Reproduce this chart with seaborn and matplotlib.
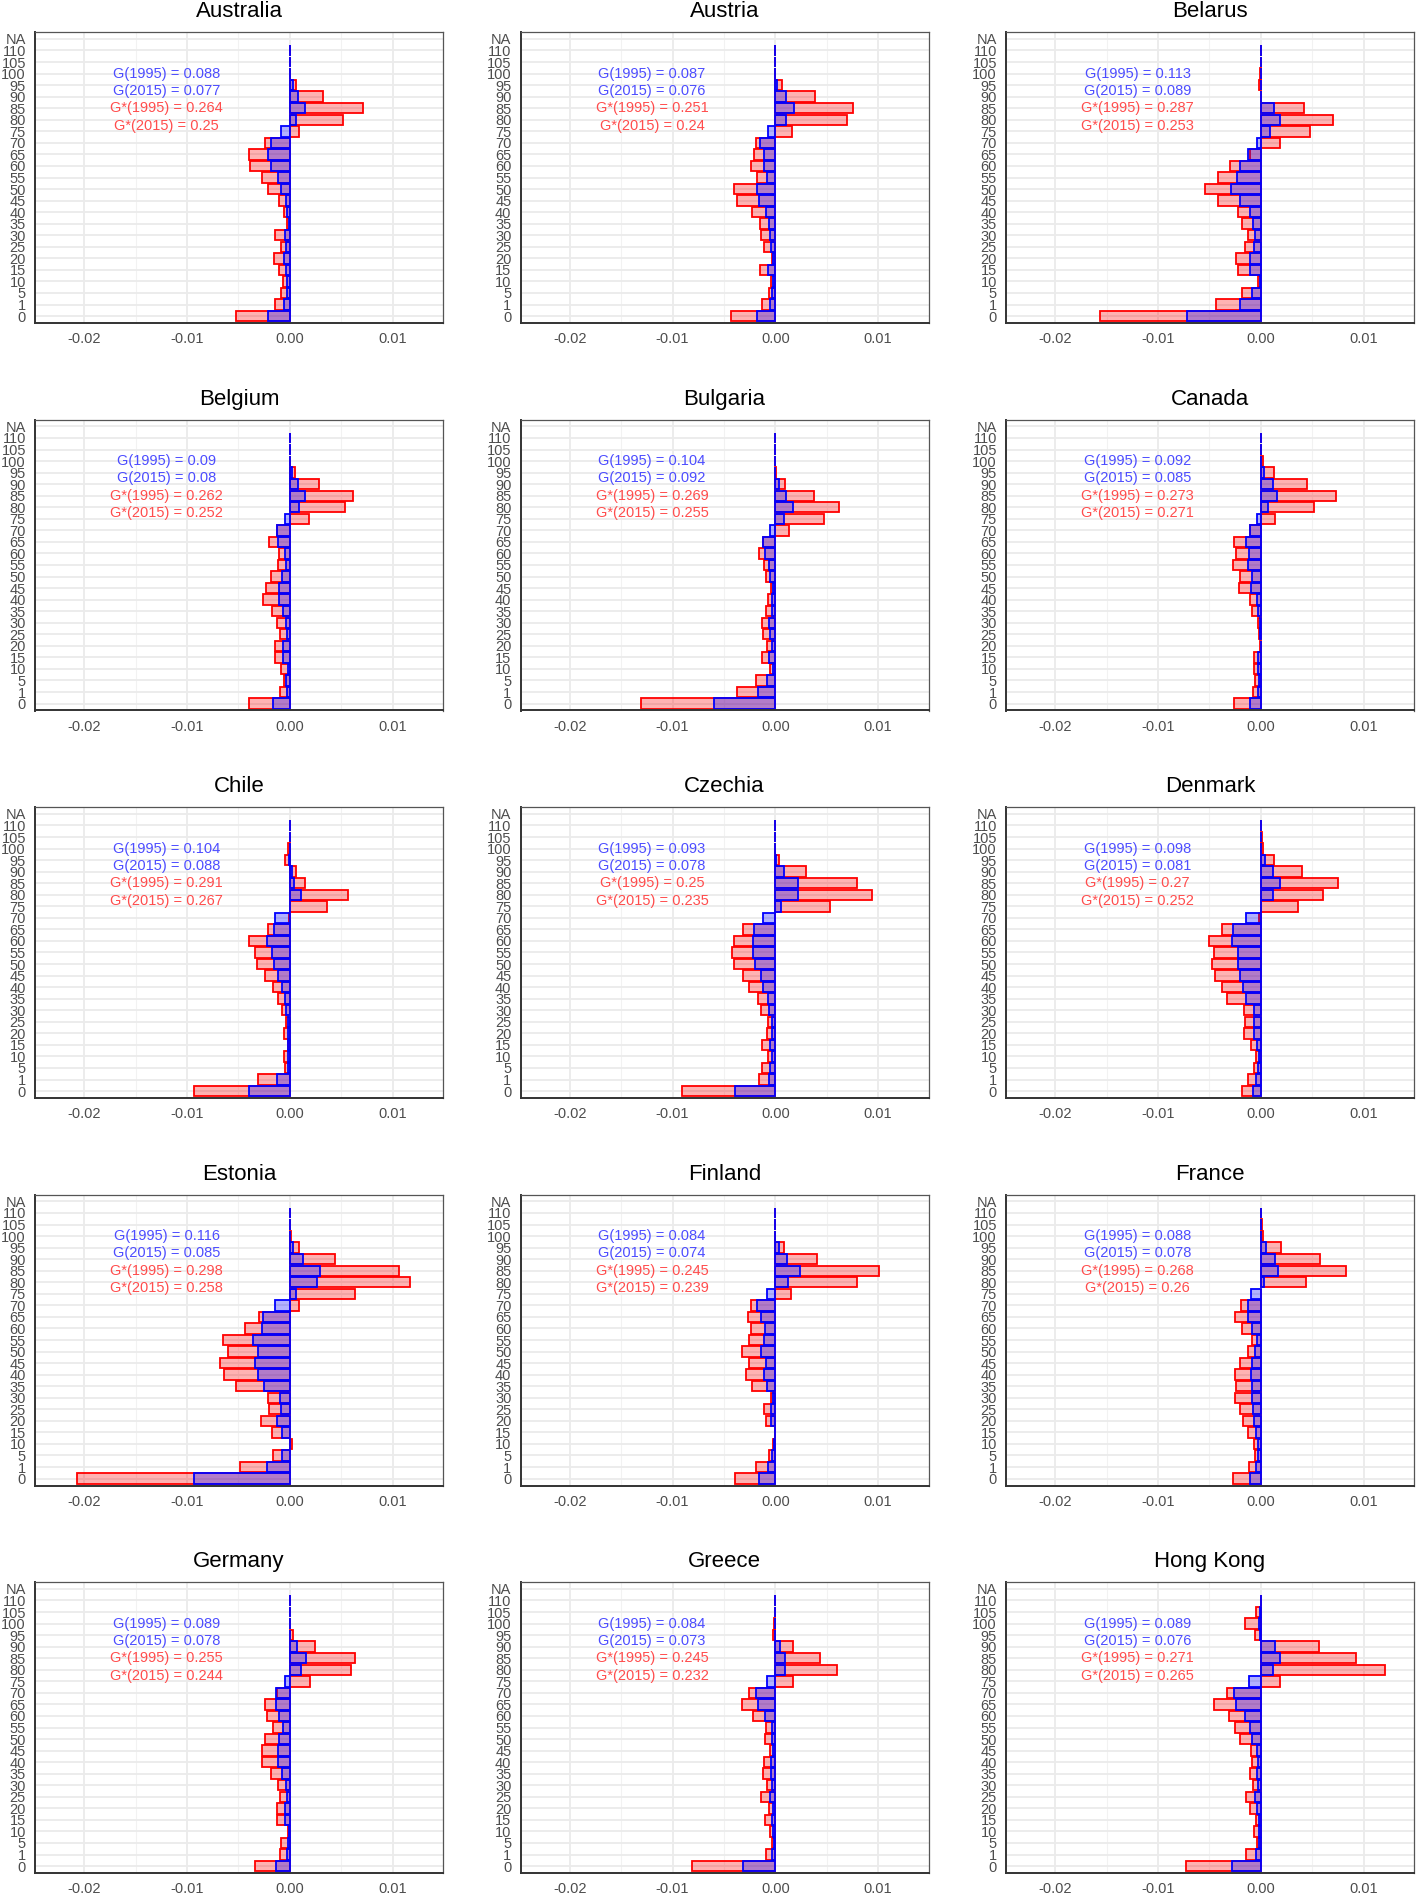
import matplotlib
matplotlib.use("Agg")
import matplotlib.pyplot as plt
import pandas as pd
import seaborn as sns

# ---------------- data ----------------
AGES = ['0', '1', '5', '10', '15', '20', '25', '30', '35', '40', '45', '50', '55',
        '60', '65', '70', '75', '80', '85', '90', '95', '100', '105', '110']
AXIS_CATEGORIES = AGES + ['NA']
XTICKS = [-0.02, -0.01, 0.0, 0.01]
XTICK_LABELS = ['-0.02', '-0.01', '0.00', '0.01']

COUNTRIES = ['Australia', 'Austria', 'Belarus', 'Belgium', 'Bulgaria', 'Canada',
             'Chile', 'Czechia', 'Denmark', 'Estonia', 'Finland', 'France',
             'Germany', 'Greece', 'Hong Kong']

G_1995 = [0.088, 0.087, 0.113, 0.09, 0.104, 0.092, 0.104, 0.093, 0.098, 0.116, 0.084, 0.088, 0.089, 0.084, 0.089]
G_2015 = [0.077, 0.076, 0.089, 0.08, 0.092, 0.085, 0.088, 0.078, 0.081, 0.085, 0.074, 0.078, 0.078, 0.073, 0.076]
GSTAR_1995 = [0.264, 0.251, 0.287, 0.262, 0.269, 0.273, 0.291, 0.25, 0.27, 0.298, 0.245, 0.268, 0.255, 0.245, 0.271]
GSTAR_2015 = [0.25, 0.24, 0.253, 0.252, 0.255, 0.271, 0.267, 0.235, 0.252, 0.258, 0.239, 0.26, 0.244, 0.232, 0.265]

# values by age group (0, 1, 5, ..., 110); red = G*, blue = G
AUSTRALIA_GSTAR = [-0.00520, -0.00140, -0.00090, -0.00070, -0.00110, -0.00150, -0.00090, -0.00140, -0.00030, -0.00060, -0.00110, -0.00210,
                   -0.00270, -0.00390, -0.00400, -0.00240, 0.00090, 0.00520, 0.00710, 0.00320, 0.00060, 0.0, 0.0, 0.0]
AUSTRALIA_G = [-0.00210, -0.00060, -0.00030, -0.00030, -0.00040, -0.00060, -0.00040, -0.00050, -0.00010, -0.00030, -0.00040, -0.00090,
               -0.00120, -0.00180, -0.00210, -0.00180, -0.00090, 0.00060, 0.00150, 0.00080, 0.00030, 0.0, 0.0, 0.0]

AUSTRIA_GSTAR = [-0.00435, -0.00134, -0.00061, -0.00042, -0.00150, -0.00035, -0.00112, -0.00137, -0.00147, -0.00227, -0.00371, -0.00399,
                 -0.00182, -0.00233, -0.00204, -0.00188, 0.00157, 0.00693, 0.00751, 0.00390, 0.00064, 0.0, 0.0, 0.0]
AUSTRIA_G = [-0.00179, -0.00051, -0.00032, -0.00026, -0.00067, -0.00022, -0.00042, -0.00051, -0.00061, -0.00096, -0.00160, -0.00176,
             -0.00077, -0.00112, -0.00112, -0.00147, -0.00073, 0.00105, 0.00182, 0.00105, 0.00019, 0.0, 0.0, 0.0]

BELARUS_GSTAR = [-0.01570, -0.00436, -0.00182, -0.00029, -0.00225, -0.00241, -0.00150, -0.00127, -0.00179, -0.00225, -0.00414, -0.00544,
                 -0.00414, -0.00300, -0.00104, 0.00186, 0.00479, 0.00700, 0.00420, 0.0, -0.00023, -0.00005, 0.0, 0.0]
BELARUS_G = [-0.00723, -0.00202, -0.00085, -0.00013, -0.00104, -0.00107, -0.00065, -0.00059, -0.00081, -0.00107, -0.00202, -0.00287,
             -0.00231, -0.00202, -0.00121, -0.00042, 0.00088, 0.00186, 0.00130, 0.0, 0.0, 0.0, 0.0, 0.0]

BELGIUM_GSTAR = [-0.00400, -0.00094, -0.00061, -0.00085, -0.00146, -0.00146, -0.00094, -0.00127, -0.00174, -0.00263, -0.00235, -0.00183,
                 -0.00113, -0.00103, -0.00202, -0.00122, 0.00183, 0.00535, 0.00610, 0.00282, 0.00047, 0.0, 0.0, 0.0]
BELGIUM_G = [-0.00160, -0.00028, -0.00033, -0.00023, -0.00066, -0.00066, -0.00028, -0.00042, -0.00070, -0.00108, -0.00103, -0.00080,
             -0.00038, -0.00047, -0.00117, -0.00122, -0.00052, 0.00089, 0.00150, 0.00075, 0.00019, 0.0, 0.0, 0.0]

BULGARIA_GSTAR = [-0.01306, -0.00370, -0.00185, -0.00056, -0.00134, -0.00083, -0.00125, -0.00134, -0.00088, -0.00074, -0.00042, -0.00093,
                  -0.00106, -0.00157, -0.00120, 0.00130, 0.00477, 0.00616, 0.00375, 0.00097, 0.00010, 0.0, 0.0, 0.0]
BULGARIA_G = [-0.00593, -0.00167, -0.00083, -0.00023, -0.00065, -0.00032, -0.00056, -0.00060, -0.00032, -0.00037, -0.00019, -0.00051,
              -0.00060, -0.00097, -0.00120, -0.00056, 0.00083, 0.00167, 0.00106, 0.00032, 0.0, 0.0, 0.0, 0.0]

CANADA_GSTAR = [-0.00261, -0.00074, -0.00055, -0.00071, -0.00071, -0.00005, -0.00023, -0.00029, -0.00087, -0.00110, -0.00216, -0.00206,
                -0.00268, -0.00239, -0.00258, -0.00106, 0.00140, 0.00520, 0.00730, 0.00450, 0.00126, 0.00020, 0.0, 0.0]
CANADA_G = [-0.00106, -0.00032, -0.00023, -0.00032, -0.00032, 0.0, -0.00006, -0.00010, -0.00032, -0.00039, -0.00094, -0.00084,
            -0.00123, -0.00119, -0.00148, -0.00106, -0.00039, 0.00065, 0.00160, 0.00120, 0.00035, 0.0, 0.0, 0.0]

CHILE_GSTAR = [-0.00930, -0.00310, -0.00047, -0.00056, -0.00023, -0.00056, -0.00038, -0.00080, -0.00113, -0.00164, -0.00244, -0.00315,
               -0.00343, -0.00399, -0.00211, -0.00005, 0.00360, 0.00570, 0.00150, 0.00056, -0.00052, -0.00019, 0.0, 0.0]
CHILE_G = [-0.00399, -0.00127, -0.00020, -0.00023, -0.00015, -0.00023, -0.00019, -0.00033, -0.00052, -0.00075, -0.00118, -0.00150,
           -0.00174, -0.00225, -0.00150, -0.00141, 0.00005, 0.00113, 0.00042, 0.00020, -0.00010, 0.0, 0.0, 0.0]

CZECHIA_GSTAR = [-0.00912, -0.00157, -0.00134, -0.00069, -0.00130, -0.00079, -0.00074, -0.00144, -0.00167, -0.00259, -0.00319, -0.00403,
                 -0.00426, -0.00398, -0.00315, 0.0, 0.00528, 0.00940, 0.00792, 0.00296, 0.00037, 0.0, 0.0, 0.0]
CZECHIA_G = [-0.00389, -0.00065, -0.00056, -0.00037, -0.00051, -0.00037, -0.00032, -0.00065, -0.00074, -0.00116, -0.00139, -0.00194,
             -0.00213, -0.00213, -0.00204, -0.00125, 0.00051, 0.00218, 0.00218, 0.00083, 0.00005, 0.0, 0.0, 0.0]

DENMARK_GSTAR = [-0.00184, -0.00129, -0.00065, -0.00052, -0.00097, -0.00168, -0.00155, -0.00165, -0.00332, -0.00377, -0.00442, -0.00477,
                 -0.00455, -0.00503, -0.00377, -0.00020, 0.00365, 0.00603, 0.00755, 0.00400, 0.00126, 0.00019, 0.00010, 0.0]
DENMARK_G = [-0.00074, -0.00048, -0.00032, -0.00023, -0.00042, -0.00068, -0.00065, -0.00071, -0.00145, -0.00171, -0.00200, -0.00226,
             -0.00223, -0.00281, -0.00271, -0.00142, 0.0, 0.00119, 0.00190, 0.00119, 0.00039, 0.0, 0.0, 0.0]

ESTONIA_GSTAR = [-0.02070, -0.00490, -0.00165, 0.00023, -0.00177, -0.00281, -0.00203, -0.00216, -0.00529, -0.00639, -0.00684, -0.00606,
                 -0.00652, -0.00432, -0.00303, 0.00087, 0.00629, 0.01170, 0.01060, 0.00442, 0.00084, 0.00013, 0.0, 0.0]
ESTONIA_G = [-0.00935, -0.00226, -0.00074, 0.0, -0.00081, -0.00129, -0.00087, -0.00097, -0.00248, -0.00306, -0.00335, -0.00313,
             -0.00355, -0.00268, -0.00265, -0.00142, 0.00055, 0.00265, 0.00297, 0.00129, 0.00029, 0.0, 0.0, 0.0]

FINLAND_GSTAR = [-0.00390, -0.00186, -0.00062, -0.00024, -0.00005, -0.00095, -0.00114, -0.00038, -0.00229, -0.00290, -0.00252, -0.00324,
                 -0.00257, -0.00238, -0.00267, -0.00233, 0.00148, 0.00795, 0.01010, 0.00405, 0.00081, 0.0, 0.0, 0.0]
FINLAND_G = [-0.00157, -0.00076, -0.00033, -0.00010, 0.0, -0.00038, -0.00043, -0.00019, -0.00086, -0.00114, -0.00095, -0.00143,
             -0.00110, -0.00105, -0.00138, -0.00176, -0.00086, 0.00119, 0.00238, 0.00110, 0.00033, 0.0, 0.0, 0.0]

FRANCE_GSTAR = [-0.00274, -0.00115, -0.00058, -0.00067, -0.00125, -0.00173, -0.00207, -0.00250, -0.00245, -0.00250, -0.00207, -0.00130,
                -0.00091, -0.00183, -0.00255, -0.00197, 0.0, 0.00442, 0.00832, 0.00577, 0.00192, 0.00019, 0.00010, 0.0]
FRANCE_G = [-0.00101, -0.00043, -0.00029, -0.00029, -0.00048, -0.00063, -0.00072, -0.00091, -0.00091, -0.00096, -0.00082, -0.00053,
            -0.00038, -0.00087, -0.00125, -0.00125, -0.00096, 0.00029, 0.00168, 0.00135, 0.00048, 0.0, 0.0, 0.0]

GERMANY_GSTAR = [-0.00343, -0.00094, -0.00085, -0.00023, -0.00122, -0.00122, -0.00094, -0.00113, -0.00188, -0.00268, -0.00268, -0.00244,
                 -0.00160, -0.00225, -0.00239, -0.00130, 0.00197, 0.00596, 0.00629, 0.00249, 0.00033, 0.0, 0.0, 0.0]
GERMANY_G = [-0.00136, -0.00028, -0.00023, -0.00010, -0.00052, -0.00047, -0.00028, -0.00038, -0.00080, -0.00113, -0.00117, -0.00108,
             -0.00070, -0.00103, -0.00131, -0.00136, -0.00052, 0.00113, 0.00160, 0.00066, 0.00005, 0.0, 0.0, 0.0]

GREECE_GSTAR = [-0.00810, -0.00088, -0.00032, -0.00051, -0.00102, -0.00065, -0.00139, -0.00083, -0.00116, -0.00106, -0.00051, -0.00097,
                -0.00088, -0.00213, -0.00329, -0.00255, 0.00167, 0.00602, 0.00435, 0.00171, -0.00023, -0.00010, 0.0, 0.0]
GREECE_G = [-0.00315, -0.00032, -0.00010, -0.00019, -0.00037, -0.00023, -0.00051, -0.00037, -0.00046, -0.00042, -0.00019, -0.00037,
            -0.00037, -0.00097, -0.00167, -0.00185, -0.00083, 0.00093, 0.00097, 0.00046, 0.0, 0.0, 0.0, 0.0]

HONGKONG_GSTAR = [-0.00730, -0.00143, -0.00033, -0.00062, -0.00052, -0.00107, -0.00140, -0.00081, -0.00104, -0.00085, -0.00094, -0.00202,
                  -0.00251, -0.00313, -0.00456, -0.00326, 0.00186, 0.01205, 0.00922, 0.00570, -0.00059, -0.00150, -0.00052, 0.0]
HONGKONG_G = [-0.00280, -0.00052, -0.00016, -0.00020, -0.00020, -0.00039, -0.00055, -0.00029, -0.00039, -0.00029, -0.00039, -0.00088,
              -0.00107, -0.00150, -0.00241, -0.00261, -0.00117, 0.00114, 0.00186, 0.00134, -0.00013, -0.00023, -0.00013, 0.0]

GSTAR_SERIES = [AUSTRALIA_GSTAR, AUSTRIA_GSTAR, BELARUS_GSTAR, BELGIUM_GSTAR, BULGARIA_GSTAR, CANADA_GSTAR,
                CHILE_GSTAR, CZECHIA_GSTAR, DENMARK_GSTAR, ESTONIA_GSTAR, FINLAND_GSTAR, FRANCE_GSTAR,
                GERMANY_GSTAR, GREECE_GSTAR, HONGKONG_GSTAR]
G_SERIES = [AUSTRALIA_G, AUSTRIA_G, BELARUS_G, BELGIUM_G, BULGARIA_G, CANADA_G,
            CHILE_G, CZECHIA_G, DENMARK_G, ESTONIA_G, FINLAND_G, FRANCE_G,
            GERMANY_G, GREECE_G, HONGKONG_G]

# ---------------- style ----------------
sns.set_theme(style="white")
plt.rcParams['font.family'] = ['Liberation Sans', 'DejaVu Sans']

W, H = 1416, 1897
COL_LEFT = [35, 520.5, 1006]
ROW_TOP = [32, 419.5, 807, 1194.5, 1582]
AW, AH = 408, 291

RED_FILL = (1.0, 0.0, 0.0, 0.3)
BLUE_FILL = (0.0, 0.0, 1.0, 0.3)
BLUE_TEXT = '#4D4DFF'
RED_TEXT = '#FF4D4D'

fig = plt.figure(figsize=(W / 100, H / 100), dpi=100)
fig.patch.set_facecolor('white')

order = AXIS_CATEGORIES[::-1]   # NA on top, 0 at the bottom
n = len(order)

for i, name in enumerate(COUNTRIES):
    r, c = divmod(i, 3)
    ax = fig.add_axes([COL_LEFT[c] / W, 1 - (ROW_TOP[r] + AH) / H, AW / W, AH / H])

    df_star = pd.DataFrame({'age': AGES, 'value': GSTAR_SERIES[i]})
    df_g = pd.DataFrame({'age': AGES, 'value': G_SERIES[i]})

    n0 = len(ax.patches)
    sns.barplot(data=df_star, x='value', y='age', order=order, orient='h',
                width=0.9, errorbar=None, saturation=1, ax=ax)
    for p in ax.patches[n0:]:
        p.set_facecolor(RED_FILL)
        p.set_edgecolor('red')
        p.set_linewidth(1.3)
    n1 = len(ax.patches)
    sns.barplot(data=df_g, x='value', y='age', order=order, orient='h',
                width=0.9, errorbar=None, saturation=1, ax=ax)
    for p in ax.patches[n1:]:
        p.set_facecolor(BLUE_FILL)
        p.set_edgecolor('blue')
        p.set_linewidth(1.3)

    ax.set_xlim(-0.0248, 0.0149)
    ax.set_ylim(n - 1 + 0.6, -0.6)
    ax.set_xticks(XTICKS)
    ax.set_xticklabels(XTICK_LABELS)
    ax.set_xticks([-0.015, -0.005, 0.005], minor=True)
    ax.set_yticks(range(n))
    ax.set_yticklabels(order)
    ax.set_xlabel('')
    ax.set_ylabel('')

    ax.set_axisbelow(True)
    ax.xaxis.grid(True, which='major', color='#EBEBEB', linewidth=1.3)
    ax.xaxis.grid(True, which='minor', color='#F2F2F2', linewidth=0.8)
    ax.yaxis.grid(True, which='major', color='#EBEBEB', linewidth=1.3)

    ax.tick_params(axis='both', which='major', length=4, width=1.0, color='#333333',
                   labelsize=10.5, labelcolor='#4D4D4D', pad=2.5)
    ax.tick_params(axis='both', which='minor', length=0)

    for side in ['top', 'right']:
        ax.spines[side].set_color('#555555')
        ax.spines[side].set_linewidth(0.9)
    for side in ['left', 'bottom']:
        ax.spines[side].set_color('#333333')
        ax.spines[side].set_linewidth(1.4)

    ax.set_title(name, fontsize=16, pad=10.5, color='black')

    ytext = [n - 1 - 21, n - 1 - 19.5, n - 1 - 18, n - 1 - 16.5]
    ax.text(-0.012, ytext[0], f'G(1995) = {G_1995[i]:g}', color=BLUE_TEXT,
            ha='center', va='center', fontsize=10.5)
    ax.text(-0.012, ytext[1], f'G(2015) = {G_2015[i]:g}', color=BLUE_TEXT,
            ha='center', va='center', fontsize=10.5)
    ax.text(-0.012, ytext[2], f'G*(1995) = {GSTAR_1995[i]:g}', color=RED_TEXT,
            ha='center', va='center', fontsize=10.5)
    ax.text(-0.012, ytext[3], f'G*(2015) = {GSTAR_2015[i]:g}', color=RED_TEXT,
            ha='center', va='center', fontsize=10.5)

fig.savefig('out.png', dpi=100, facecolor='white')
